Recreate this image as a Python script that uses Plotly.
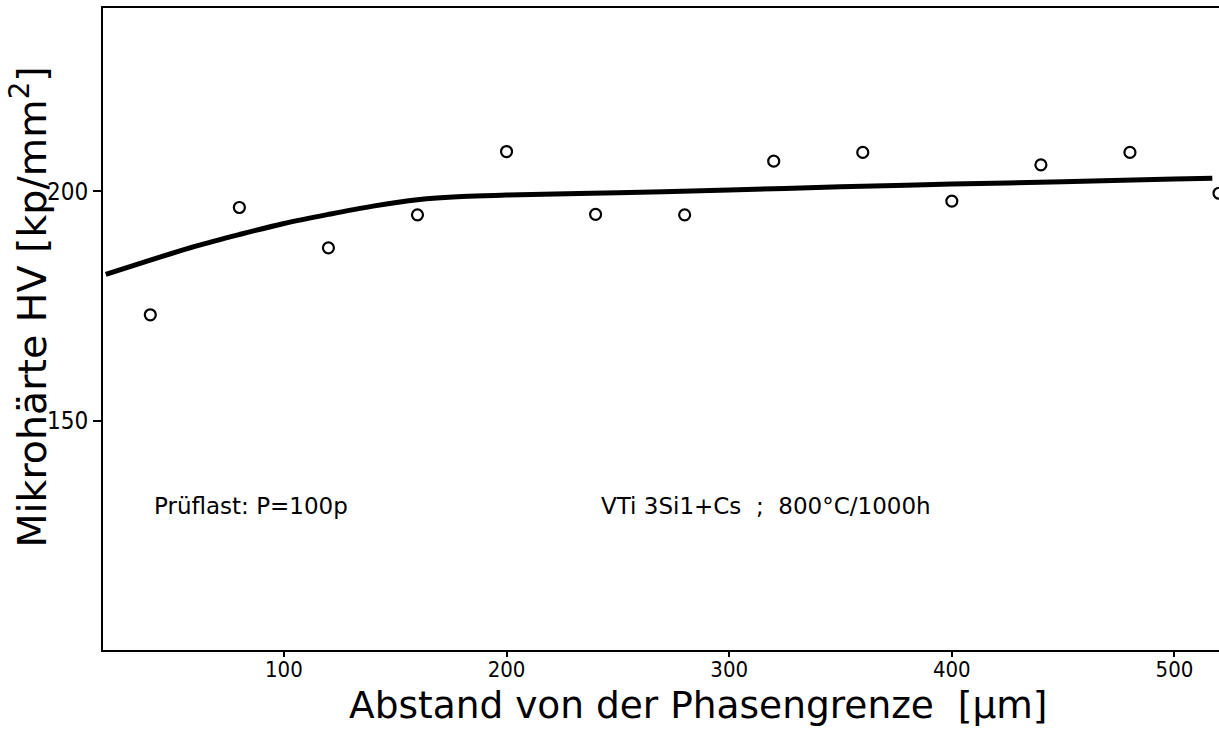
import plotly.graph_objects as go

# Data points (open circles)
x_pts = [40, 80, 120, 160, 200, 240, 280, 320, 360, 400, 440, 480, 520]
y_pts = [173.1, 196.5, 187.7, 194.9, 208.7, 195.0, 194.9, 206.6, 208.5, 197.9, 205.8, 208.5, 199.6]

# Fitted curve
x_curve = [20, 40, 60, 80, 100, 120, 140, 160, 180, 200, 250, 300, 350, 400, 450, 500, 517]
y_curve = [181.9, 185.0, 188.0, 190.6, 193.0, 195.0, 196.8, 198.2, 198.9, 199.2, 199.7, 200.3, 201.0, 201.6, 202.1, 202.7, 202.9]

x_ticks = [100, 200, 300, 400, 500]
y_ticks = [150, 200]

x_title = "Abstand von der Phasengrenze  [µm]"
y_title = "Mikrohärte HV [kp/mm<sup>2</sup>]"
note_left = "Prüflast: P=100p"
note_right = "VTi 3Si1+Cs  ;  800°C/1000h"

COND = "DejaVu Sans Condensed, Liberation Sans Narrow, DejaVu Sans, sans-serif"
MAIN = "DejaVu Sans, Liberation Sans, sans-serif"

fig = go.Figure()
fig.add_trace(go.Scatter(
    x=x_curve, y=y_curve, mode="lines",
    line=dict(color="black", width=5, shape="spline", smoothing=1.0),
    hoverinfo="skip", showlegend=False))
fig.add_trace(go.Scatter(
    x=x_pts, y=y_pts, mode="markers",
    marker=dict(symbol="circle-open", size=11, color="black", line=dict(width=2.2, color="black")),
    showlegend=False, cliponaxis=True))

fig.add_annotation(x=40.6, y=131.5, text=note_left, showarrow=False, xanchor="left", yanchor="middle",
                   font=dict(family=MAIN, size=23, color="black"))
fig.add_annotation(x=241.5, y=131.5, text=note_right, showarrow=False, xanchor="left", yanchor="middle",
                   font=dict(family=MAIN, size=23, color="black"))

# Axis titles as annotations for precise placement
fig.add_annotation(xref="paper", yref="paper", x=0.5336, y=-0.0857, text=x_title, showarrow=False,
                   xanchor="center", yanchor="middle",
                   font=dict(family=MAIN, size=37.5, color="black"))
fig.add_annotation(xref="paper", yref="paper", x=-0.066, y=0.534, text=y_title, showarrow=False,
                   xanchor="center", yanchor="middle", textangle=-90,
                   font=dict(family=MAIN, size=39.5, color="black"))

fig.update_xaxes(
    range=[18.75, 520], tickvals=x_ticks, ticktext=[str(v) for v in x_ticks],
    ticks="outside", ticklen=5, tickwidth=2, tickcolor="black",
    showline=True, linecolor="black", linewidth=2, mirror=True,
    showgrid=False, zeroline=False, ticklabelstandoff=-6,
    tickfont=dict(family=COND, size=22, color="black"))
fig.update_yaxes(
    range=[100, 240], tickvals=y_ticks, ticktext=[str(v) for v in y_ticks],
    ticks="outside", ticklen=8, tickwidth=2, tickcolor="black",
    showline=True, linecolor="black", linewidth=2, mirror=False,
    showgrid=False, zeroline=False,
    tickfont=dict(family=COND, size=24, color="black"))

fig.update_layout(
    width=1219, height=731,
    margin=dict(l=103, r=0, t=8, b=81),
    paper_bgcolor="white", plot_bgcolor="white")

fig.write_html("out.html")
